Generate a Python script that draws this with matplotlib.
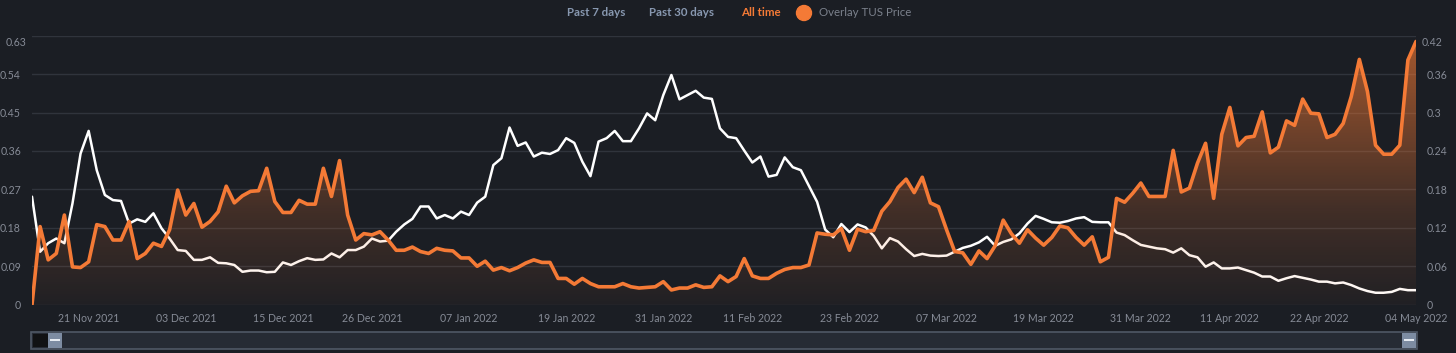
import numpy as np
import pandas as pd
import matplotlib
matplotlib.use("Agg")
import matplotlib.pyplot as plt
import matplotlib.dates as mdates
from matplotlib.patches import Rectangle, Circle
from matplotlib.colors import LinearSegmentedColormap

# ---------------- data ----------------
start_date = "2021-11-14"

# left axis series (white line)
white_values = [
    0.253, 0.124, 0.144, 0.155, 0.144, 0.237, 0.354, 0.407, 0.315, 0.257,
    0.245, 0.243, 0.190, 0.200, 0.194, 0.214, 0.179, 0.155, 0.128, 0.126,
    0.105, 0.105, 0.111, 0.098, 0.097, 0.093, 0.077, 0.080, 0.080, 0.076,
    0.077, 0.099, 0.093, 0.102, 0.109, 0.105, 0.106, 0.120, 0.111, 0.128,
    0.128, 0.136, 0.155, 0.148, 0.150, 0.171, 0.188, 0.201, 0.230, 0.230,
    0.202, 0.210, 0.202, 0.218, 0.210, 0.239, 0.253, 0.327, 0.343, 0.415,
    0.372, 0.380, 0.347, 0.356, 0.353, 0.362, 0.390, 0.379, 0.335, 0.301,
    0.382, 0.390, 0.407, 0.383, 0.383, 0.413, 0.448, 0.432, 0.491, 0.538,
    0.481, 0.491, 0.501, 0.485, 0.482, 0.413, 0.393, 0.390, 0.361, 0.333,
    0.347, 0.300, 0.304, 0.345, 0.322, 0.315, 0.278, 0.241, 0.176, 0.158,
    0.189, 0.170, 0.188, 0.181, 0.161, 0.132, 0.156, 0.148, 0.130, 0.114,
    0.119, 0.115, 0.114, 0.115, 0.124, 0.133, 0.138, 0.146, 0.159, 0.138,
    0.147, 0.153, 0.167, 0.190, 0.208, 0.201, 0.193, 0.192, 0.196, 0.202,
    0.205, 0.194, 0.193, 0.193, 0.169, 0.163, 0.151, 0.140, 0.136, 0.132,
    0.130, 0.122, 0.132, 0.116, 0.111, 0.089, 0.099, 0.085, 0.085, 0.087,
    0.081, 0.075, 0.066, 0.066, 0.056, 0.062, 0.067, 0.063, 0.059, 0.054,
    0.054, 0.050, 0.052, 0.046, 0.038, 0.032, 0.028, 0.028, 0.030, 0.037,
    0.034, 0.034,
]

# right axis series (TUS price, orange)
tus_price = [
    0.000, 0.122, 0.070, 0.080, 0.140, 0.059, 0.058, 0.067, 0.125, 0.122,
    0.101, 0.101, 0.130, 0.072, 0.080, 0.096, 0.091, 0.117, 0.179, 0.140,
    0.158, 0.121, 0.130, 0.145, 0.185, 0.159, 0.170, 0.177, 0.178, 0.213,
    0.161, 0.144, 0.144, 0.163, 0.157, 0.157, 0.213, 0.169, 0.225, 0.140,
    0.101, 0.111, 0.109, 0.114, 0.101, 0.085, 0.085, 0.090, 0.083, 0.080,
    0.088, 0.085, 0.084, 0.073, 0.073, 0.060, 0.068, 0.054, 0.058, 0.053,
    0.058, 0.065, 0.070, 0.066, 0.066, 0.041, 0.041, 0.032, 0.041, 0.033,
    0.028, 0.028, 0.028, 0.033, 0.028, 0.026, 0.027, 0.028, 0.036, 0.023,
    0.026, 0.026, 0.031, 0.027, 0.028, 0.045, 0.036, 0.044, 0.072, 0.045,
    0.041, 0.041, 0.049, 0.055, 0.058, 0.058, 0.062, 0.112, 0.110, 0.109,
    0.119, 0.085, 0.118, 0.114, 0.116, 0.146, 0.161, 0.183, 0.196, 0.175,
    0.199, 0.159, 0.153, 0.117, 0.083, 0.081, 0.063, 0.084, 0.072, 0.092,
    0.132, 0.111, 0.096, 0.117, 0.104, 0.093, 0.105, 0.123, 0.120, 0.105,
    0.093, 0.106, 0.067, 0.074, 0.166, 0.160, 0.174, 0.190, 0.169, 0.169,
    0.169, 0.241, 0.176, 0.182, 0.221, 0.252, 0.166, 0.266, 0.308, 0.248,
    0.261, 0.263, 0.301, 0.237, 0.246, 0.287, 0.280, 0.321, 0.299, 0.298,
    0.261, 0.266, 0.283, 0.325, 0.383, 0.333, 0.249, 0.235, 0.235, 0.249,
    0.382, 0.411,
]

x_tick_labels = ["21 Nov 2021", "03 Dec 2021", "15 Dec 2021", "26 Dec 2021",
                 "07 Jan 2022", "19 Jan 2022", "31 Jan 2022", "11 Feb 2022",
                 "23 Feb 2022", "07 Mar 2022", "19 Mar 2022", "31 Mar 2022",
                 "11 Apr 2022", "22 Apr 2022", "04 May 2022"]
left_ticks = [0, 0.09, 0.18, 0.27, 0.36, 0.45, 0.54, 0.63]
left_tick_labels = ["0", "0.09", "0.18", "0.27", "0.36", "0.45", "0.54", "0.63"]
right_ticks = [0, 0.06, 0.12, 0.18, 0.24, 0.30, 0.36, 0.42]
right_tick_labels = ["0", "0.06", "0.12", "0.18", "0.24", "0.3", "0.36", "0.42"]

header_buttons = ["Past 7 days", "Past 30 days", "All time"]
overlay_label = "Overlay TUS Price"

# ---------------- style ----------------
BG = "#1b1e24"
GRID = "#30343c"
TICK = "#868b96"
ORANGE = "#f47a36"
WHITE = "#ffffff"
BTN = "#8898b0"
FONT = "Lato"
TICK_SIZE = 7.6

plt.rcParams["font.family"] = [FONT, "DejaVu Sans"]

W, H = 1456, 353
fig = plt.figure(figsize=(W / 100, H / 100), dpi=100, facecolor=BG)

x0, x1 = 32, 1416
y_top, y_bot = 35.7, 304.7
ax = fig.add_axes([x0 / W, 1 - y_bot / H, (x1 - x0) / W, (y_bot - y_top) / H])
ax.set_facecolor(BG)
ax2 = ax.twinx()
ax2.patch.set_visible(False)

dates = pd.date_range(start_date, periods=len(white_values), freq="D")
xnum = mdates.date2num(dates)

# grid + axes
ax.set_ylim(left_ticks[0], left_ticks[-1])
ax2.set_ylim(right_ticks[0], right_ticks[-1])
ax.set_xlim(xnum[0], xnum[-1])
ax2.set_xlim(xnum[0], xnum[-1])
ax.set_yticks(left_ticks)
ax.yaxis.grid(True, color=GRID, linewidth=1.0)
ax.set_axisbelow(True)
for a in (ax, ax2):
    for s in a.spines.values():
        s.set_visible(False)
    a.tick_params(length=0, colors=TICK, labelsize=TICK_SIZE)

# top labels are drawn separately, a little below their grid line
ax.set_yticklabels(left_tick_labels[:-1] + [""])
ax.tick_params(axis="y", pad=8)
ax2.set_yticks(right_ticks)
ax2.set_yticklabels(right_tick_labels[:-1] + [""])
ax2.tick_params(axis="y", pad=8)
ax.annotate(left_tick_labels[-1], xy=(0, left_ticks[-1]),
            xycoords=("axes fraction", "data"), xytext=(-6, -6.5),
            textcoords="offset pixels", ha="right", va="center",
            color=TICK, fontsize=TICK_SIZE, annotation_clip=False)
ax2.annotate(right_tick_labels[-1], xy=(1, right_ticks[-1]),
             xycoords=("axes fraction", "data"), xytext=(6, -6.5),
             textcoords="offset pixels", ha="left", va="center",
             color=TICK, fontsize=TICK_SIZE, annotation_clip=False)

tick_dates = mdates.date2num(pd.to_datetime(x_tick_labels, format="%d %b %Y"))
ax.set_xticks(tick_dates)
ax.set_xticklabels(x_tick_labels)
ax.tick_params(axis="x", pad=6)
ax2.set_xlim(xnum[0], xnum[-1])

# white line (left axis)
ax.plot(xnum, white_values, color=WHITE, linewidth=1.8, solid_joinstyle="round",
        solid_capstyle="round", zorder=3)

# orange gradient fill (right axis)
poly = ax2.fill_between(xnum, tus_price, 0, color="none", linewidth=0)
grad = np.linspace(0, 1, 256).reshape(-1, 1)
cmap = LinearSegmentedColormap.from_list(
    "g", [(0, (0.96, 0.48, 0.21, 0.03)), (0.35, (0.96, 0.48, 0.21, 0.18)),
          (1, (0.96, 0.48, 0.21, 0.64))])
img = ax2.imshow(grad, extent=[xnum[0], xnum[-1], 0, right_ticks[-1]],
                 origin="lower", aspect="auto", cmap=cmap, zorder=1,
                 interpolation="bilinear")
img.set_clip_path(poly.get_paths()[0], transform=ax2.transData)
ax2.set_ylim(right_ticks[0], right_ticks[-1])
ax2.set_xlim(xnum[0], xnum[-1])
ax2.plot(xnum, tus_price, color=ORANGE, linewidth=2.6, solid_joinstyle="round",
         solid_capstyle="round", zorder=4)

# ---------------- header ----------------
def fx(px):
    return px / W

def fy(py):
    return 1 - py / H

ty = 13
fig.text(fx(567), fy(ty), header_buttons[0], color=BTN, fontsize=8.3,
         fontweight="bold", va="center", ha="left")
fig.text(fx(649), fy(ty), header_buttons[1], color=BTN, fontsize=8.3,
         fontweight="bold", va="center", ha="left")
fig.text(fx(741), fy(ty), header_buttons[2], color=ORANGE, fontsize=8.3,
         fontweight="bold", va="center", ha="left")
fig.patches.append(Circle((804, H - ty), 7.5, transform=None, color=ORANGE,
                          figure=fig))
fig.text(fx(819), fy(ty), overlay_label, color="#7b818c", fontsize=8.3,
         va="center", ha="left")

# ---------------- data-zoom slider ----------------
def rect(xa, ya, xb, yb, **kw):
    r = Rectangle((xa, H - yb), xb - xa, yb - ya, transform=None, figure=fig, **kw)
    fig.patches.append(r)

rect(31, 332, 1417, 348.5, facecolor="#262b34", edgecolor="#4f5866", linewidth=1.2)
rect(32.5, 333.5, 48, 347.3, facecolor="#111214", edgecolor="none")
rect(48, 333, 62, 348, facecolor="#7d8ca2", edgecolor="none")
rect(50, 339, 60, 341, facecolor="#e6ebf2", edgecolor="none")
rect(1402, 333, 1416, 348, facecolor="#7d8ca2", edgecolor="none")
rect(1404, 339, 1414, 341, facecolor="#e6ebf2", edgecolor="none")

fig.savefig("out.png", dpi=100, facecolor=BG)
